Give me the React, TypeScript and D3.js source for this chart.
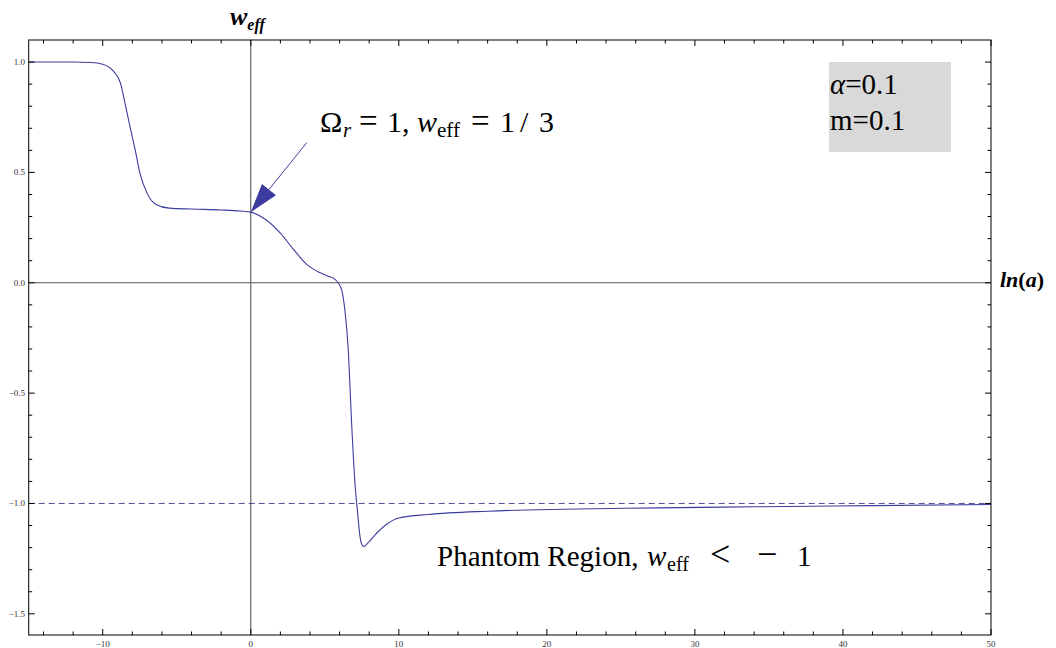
import React from "react";
import * as d3 from "d3";

const lnA = [-15, -12, -10.8, -10, -9.3, -8.8, -8.5, -8.15, -7.8, -7.5, -7.0, -6.4, -5.5, -4, -2, -0.7, 0, 1, 2, 2.9, 3.8, 4.7, 5.3, 5.6, 5.9, 6.15, 6.35, 6.6, 6.8, 7.05, 7.2, 7.38, 7.5, 7.65, 7.9, 8.5, 9.2, 10, 12, 16, 21, 27.5, 34, 42, 50];
const wEff = [1.0, 1.0, 0.998, 0.99, 0.96, 0.905, 0.815, 0.705, 0.6, 0.5, 0.405, 0.355, 0.338, 0.334, 0.33, 0.325, 0.32, 0.287, 0.225, 0.15, 0.082, 0.045, 0.028, 0.02, 0.0, -0.035, -0.12, -0.32, -0.62, -0.92, -1.03, -1.15, -1.185, -1.195, -1.18, -1.135, -1.093, -1.066, -1.05, -1.035, -1.026, -1.02, -1.015, -1.01, -1.005];

const xMajor = [-10, 0, 10, 20, 30, 40, 50];
const yMajor = [1.0, 0.5, 0.0, -0.5, -1.0, -1.5];
const xLabels = ["\u221210", "0", "10", "20", "30", "40", "50"];
const yLabels = ["1.0", "0.5", "0.0", "\u22120.5", "\u22121.0", "\u22121.5"];

const legendLines = ["=0.1", "m=0.1"];

export default function App() {
  const W = 1056, H = 648;
  const x = d3.scaleLinear().domain([-15, 50]).range([28.7, 991]);
  const y = d3.scaleLinear().domain([1.1, -1.596]).range([40, 635]);
  const [x0, x1] = x.range();
  const [y0, y1] = y.range();

  const xMinor = d3.range(-14, 51, 2).filter((v) => v % 10 !== 0);
  const yMinor = d3.range(-15, 11, 1).map((v) => v / 10).filter((v) => Math.abs(v * 2 - Math.round(v * 2)) > 1e-6);

  const line = d3
    .line<number>()
    .x((_, i) => x(lnA[i]))
    .y((d) => y(d))
    .curve(d3.curveMonotoneX);

  const serif = "'Liberation Serif', 'Times New Roman', serif";
  const curveColor = "#3c3c9e";

  // arrow
  const tail = [306.7, 142.7];
  const tip = [x(0), y(0.32)];
  const ang = Math.atan2(tip[1] - tail[1], tip[0] - tail[0]);
  const hl = 29, hw = 9;
  const bx = tip[0] - hl * Math.cos(ang), by = tip[1] - hl * Math.sin(ang);
  const px = -Math.sin(ang), py = Math.cos(ang);
  const head = `M${tip[0]},${tip[1]} L${bx + hw * px},${by + hw * py} L${bx - hw * px},${by - hw * py} Z`;

  return (
    <svg width={W} height={H} style={{ position: "absolute", left: 0, top: 0 }} fontFamily={serif}>
      <rect width={W} height={H} fill="#fff" />
      {/* legend box */}
      <rect x={829} y={62} width={122} height={90} fill="#d9d9d9" />
      <text x={830} y={93.5} fontSize={29} fill="#000">
        <tspan fontStyle="italic">α</tspan>
        <tspan>{legendLines[0]}</tspan>
      </text>
      <text x={830} y={130} fontSize={29} fill="#000">{legendLines[1]}</text>

      {/* axes through origin */}
      <line x1={x0} x2={x1} y1={y(0)} y2={y(0)} stroke="#555" strokeWidth={1.1} />
      <line x1={x(0)} x2={x(0)} y1={y0} y2={y1} stroke="#555" strokeWidth={1.1} />
      {/* dashed w = -1 */}
      <line x1={x0} x2={x1} y1={y(-1)} y2={y(-1)} stroke="#3a3a8c" strokeWidth={0.9} strokeDasharray="6,4" />

      {/* curve */}
      <path d={line(wEff) || ""} fill="none" stroke={curveColor} strokeWidth={1.1} />

      {/* frame */}
      <rect x={x0} y={y0} width={x1 - x0} height={y1 - y0} fill="none" stroke="#000" strokeWidth={1} />

      {/* ticks */}
      {xMajor.map((v) => (
        <g key={"xm" + v}>
          <line x1={x(v)} x2={x(v)} y1={y1} y2={y1 - 6} stroke="#000" />
          <line x1={x(v)} x2={x(v)} y1={y0} y2={y0 + 6} stroke="#000" />
        </g>
      ))}
      {xMinor.map((v) => (
        <g key={"xn" + v}>
          <line x1={x(v)} x2={x(v)} y1={y1} y2={y1 - 3.5} stroke="#000" />
          <line x1={x(v)} x2={x(v)} y1={y0} y2={y0 + 3.5} stroke="#000" />
        </g>
      ))}
      {yMajor.map((v) => (
        <g key={"ym" + v}>
          <line x1={x0} x2={x0 + 6} y1={y(v)} y2={y(v)} stroke="#000" />
          <line x1={x1} x2={x1 - 6} y1={y(v)} y2={y(v)} stroke="#000" />
        </g>
      ))}
      {yMinor.map((v) => (
        <g key={"yn" + v}>
          <line x1={x0} x2={x0 + 3.5} y1={y(v)} y2={y(v)} stroke="#000" />
          <line x1={x1} x2={x1 - 3.5} y1={y(v)} y2={y(v)} stroke="#000" />
        </g>
      ))}
      {xMajor.map((v, i) => (
        <text key={"xl" + v} x={x(v)} y={647} fontSize={9} textAnchor="middle" fill="#333">
          {xLabels[i]}
        </text>
      ))}
      {yMajor.map((v, i) => (
        <text key={"yl" + v} x={25} y={y(v) + 3} fontSize={9} textAnchor="end" fill="#333">
          {yLabels[i]}
        </text>
      ))}

      {/* axis labels */}
      <text x={230} y={25} fontSize={26} fontWeight="bold" fontStyle="italic">
        w<tspan fontSize={16} dy={5}>eff</tspan>
      </text>
      <text x={1000} y={287} fontSize={22} fontWeight="bold" fontStyle="italic">
        ln<tspan fontStyle="normal">(</tspan>a<tspan fontStyle="normal">)</tspan>
      </text>

      {/* annotation */}
      <line x1={tail[0]} y1={tail[1]} x2={bx} y2={by} stroke={curveColor} strokeWidth={1} />
      <path d={head} fill={curveColor} />
      <text y={132} fontSize={30}>
        <tspan x={320}>Ω</tspan>
        <tspan x={343} fontStyle="italic" fontSize={21} dy={5}>r</tspan>
        <tspan x={359} dy={-5} fontSize={33}>=</tspan>
        <tspan x={387}>1,</tspan>
        <tspan x={417} fontStyle="italic">w</tspan>
        <tspan x={437} fontSize={21} dy={5}>eff</tspan>
        <tspan x={471} dy={-5} fontSize={33}>=</tspan>
        <tspan x={500}>1</tspan>
        <tspan x={520}>/</tspan>
        <tspan x={539}>3</tspan>
      </text>
      <text y={566} fontSize={29}>
        <tspan x={437}>Phantom Region,</tspan>
        <tspan x={647} fontStyle="italic">w</tspan>
        <tspan x={667} fontSize={20} dy={5}>eff</tspan>
        <tspan x={710} dy={-5} fontSize={36}>{"<"}</tspan>
        <tspan x={757} fontSize={36}>{"\u2212"}</tspan>
        <tspan x={797}>1</tspan>
      </text>
    </svg>
  );
}
